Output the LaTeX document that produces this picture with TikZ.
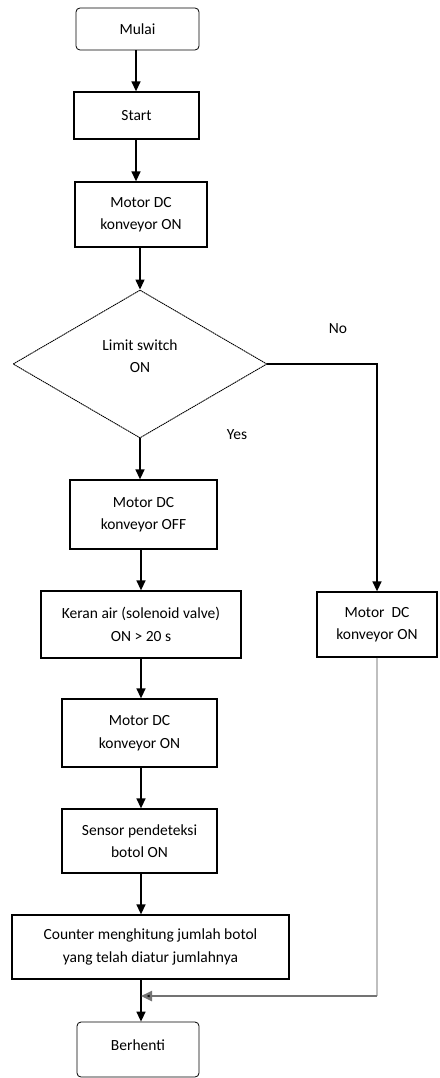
\documentclass[tikz,border=0pt]{standalone}
\usepackage{fontspec}
\setmainfont{Carlito}
\usetikzlibrary{shapes.geometric,arrows.meta}
\begin{document}
\begin{tikzpicture}[x=1pt,y=-1pt,
  every node/.style={font=\fontsize{15.5}{22.5}\selectfont, align=center, inner sep=0pt},
  box/.style={draw, line width=1.3pt, rectangle},
  term/.style={draw, line width=0.8pt, rounded corners=4pt, rectangle},
  arr/.style={line width=1.4pt, -{Triangle[length=10pt,width=9pt]}},
  grayline/.style={line width=2pt, draw=black!25},
  mergeline/.style={line width=2.4pt, draw=black!55, -{Triangle[length=11pt,width=10pt,fill=black]}}
]
\useasboundingbox (0,0) rectangle (439,1078);
\coordinate (ca) at (136,0);
\coordinate (cb) at (141,0);
\node[term, minimum width=123pt, minimum height=42pt] (mulai) at (137.5,29) {Mulai};
\node[box, minimum width=125pt, minimum height=47pt] (start) at (136.5,115.5) {Start};
\node[box, minimum width=132pt, minimum height=65pt] (m1) at (141,214.5) {Motor DC\\konveyor ON};
\node[draw, diamond, line width=0.9pt, dash pattern=on 1.5pt off 0.6pt, aspect=1.72, minimum width=254pt, minimum height=148pt] (dec) at (140,364) {};
\node (dtext) at (140,356) {Limit switch\\ON};
\node (no) at (338,329) {No};
\node (yes) at (237,435) {Yes};
\node[box, minimum width=147pt, minimum height=69pt] (off) at (143.5,514.5) {Motor DC\\konveyor OFF};
\node[box, minimum width=200pt, minimum height=67pt] (keran) at (141,624.5) {Keran air (solenoid valve)\\ON > 20 s};
\node[box, minimum width=155pt, minimum height=68pt] (m2) at (139.5,733) {Motor DC\\konveyor ON};
\node[box, minimum width=155pt, minimum height=64pt] (sensor) at (139.5,841) {Sensor pendeteksi\\botol ON};
\node[box, minimum width=277pt, minimum height=64pt] (counter) at (150.5,947) {Counter menghitung jumlah botol\\yang telah diatur jumlahnya};
\node[term, minimum width=122pt, minimum height=55pt] (stop) at (138,1049.5) {};
\node (stoptext) at (138,1045) {Berhenti};
\node[box, minimum width=120pt, minimum height=65pt] (rbox) at (377,624.5) {Motor~~DC\\konveyor ON};
\coordinate (merge) at (141,996);

\draw[arr] (mulai.south -| ca) -- (start.north -| ca);
\draw[arr] (start.south -| ca) -- (m1.north -| ca);
\draw[arr] (m1.south -| dec.north) -- (dec.north);
\draw[arr] (dec.south) -- (off.north -| dec.south);
\draw[arr] (off.south -| keran) -- (keran.north);
\draw[arr] (keran.south -| cb) -- (m2.north -| cb);
\draw[arr] (m2.south -| cb) -- (sensor.north -| cb);
\draw[arr] (sensor.south -| cb) -- (counter.north -| cb);
\draw[arr] (counter.south -| merge) -- (stop.north -| merge);
\draw[arr] (dec.east) -| (rbox.north);
\draw[grayline] (rbox.south) -- (rbox.south |- merge);
\draw[mergeline] (rbox.south |- merge) -- (merge);
\end{tikzpicture}
\end{document}
